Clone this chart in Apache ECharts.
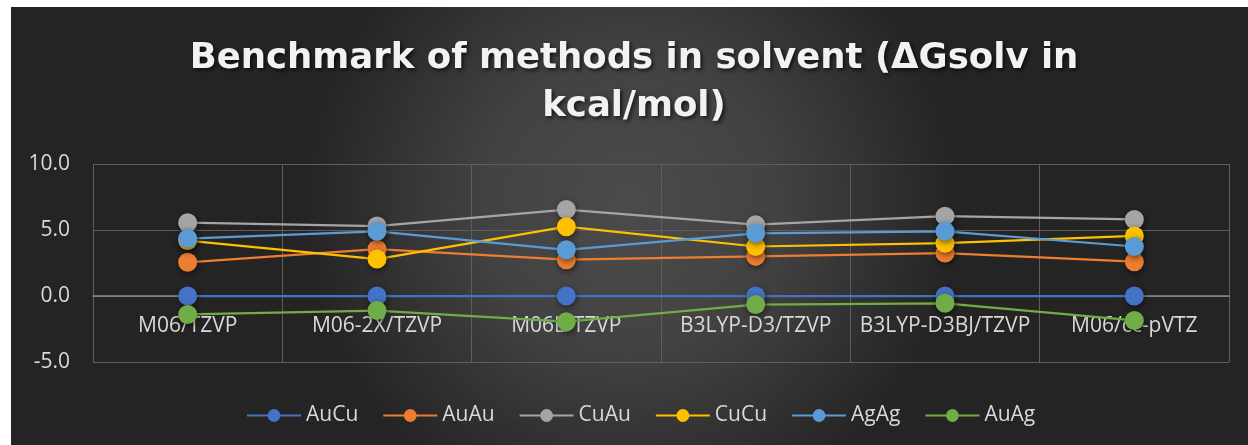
<!DOCTYPE html>
<html>
<head>
<meta charset="utf-8">
<style>
  html, body { margin: 0; padding: 0; background: #ffffff; }
  #chart { width: 1248px; height: 445px; }
</style>
<script src="https://cdn.jsdelivr.net/npm/echarts@6/dist/echarts.min.js"></script>
</head>
<body>
<div id="chart"></div>
<script>
// Methods compared (x-axis categories)
const methods = ['M06/TZVP', 'M06-2X/TZVP', 'M06L/TZVP', 'B3LYP-D3/TZVP', 'B3LYP-D3BJ/TZVP', 'M06/cc-pVTZ'];

// ΔGsolv values in kcal/mol for each dimer
const auCu = [0.0, 0.0, 0.0, 0.0, 0.0, 0.0];
const auAu = [2.55, 3.55, 2.75, 3.0, 3.25, 2.6];
const cuAu = [5.55, 5.3, 6.55, 5.4, 6.05, 5.8];
const cuCu = [4.2, 2.8, 5.25, 3.75, 4.0, 4.55];
const agAg = [4.35, 4.9, 3.5, 4.75, 4.9, 3.75];
const auAg = [-1.4, -1.1, -1.95, -0.65, -0.55, -1.85];

const yTicks = { min: -5, max: 10, step: 5 };

const seriesDefs = [
  { name: 'AuCu', data: auCu, color: '#4472C4' },
  { name: 'AuAu', data: auAu, color: '#ED7D31' },
  { name: 'CuAu', data: cuAu, color: '#A5A5A5' },
  { name: 'CuCu', data: cuCu, color: '#FFC000' },
  { name: 'AgAg', data: agAg, color: '#5B9BD5' },
  { name: 'AuAg', data: auAg, color: '#70AD47' }
];

const labelColor = '#d9d9d9';
const font = '"Open Sans", "DejaVu Sans", sans-serif';
const titleFont = '"DejaVu Sans", "Open Sans", sans-serif';

const chart = echarts.init(document.getElementById('chart'), null, { renderer: 'canvas' });

chart.setOption({
  backgroundColor: '#ffffff',
  animation: false,
  graphic: [{
    type: 'rect',
    z: -100,
    silent: true,
    shape: { x: 11, y: 7, width: 1237, height: 438 },
    style: {
      fill: {
        type: 'radial', x: 0.5, y: 0.45, r: 0.75,
        colorStops: [
          { offset: 0, color: '#4b4b4b' },
          { offset: 0.45, color: '#424242' },
          { offset: 1, color: '#242424' }
        ]
      }
    }
  }],
  title: {
    text: 'Benchmark of methods in solvent (ΔGsolv in\nkcal/mol)',
    left: 629,
    textAlign: 'center',
    top: 30,
    textStyle: {
      fontFamily: titleFont,
      fontWeight: 'bold',
      fontSize: 35.5,
      lineHeight: 48,
      color: '#f2f2f2',
      textShadowColor: 'rgba(0,0,0,0.7)',
      textShadowBlur: 4,
      textShadowOffsetX: 2,
      textShadowOffsetY: 2
    }
  },
  legend: {
    top: 405,
    left: 246,
    padding: 0,
    itemWidth: 54,
    itemHeight: 16,
    itemGap: 24,
    textStyle: { color: labelColor, fontFamily: font, fontSize: 21 },
    data: seriesDefs.map(s => s.name)
  },
  grid: { left: 93, right: 19, top: 164, bottom: 83, containLabel: false },
  xAxis: {
    type: 'category',
    data: methods,
    boundaryGap: true,
    // axis (and its labels) sits on the zero line, 5 units above the -5 floor
    offset: -66,
    axisLine: { show: true, lineStyle: { color: '#8a8a8a', width: 1.5 } },
    axisTick: { show: false },
    axisLabel: { color: labelColor, fontFamily: font, fontSize: 21, margin: 20, interval: 0 },
    splitLine: { show: true, interval: 0, lineStyle: { color: '#5e5e5e', width: 1 } }
  },
  yAxis: {
    type: 'value',
    min: yTicks.min,
    max: yTicks.max,
    interval: yTicks.step,
    axisLine: { show: false },
    axisTick: { show: false },
    axisLabel: {
      color: labelColor, fontFamily: font, fontSize: 21, margin: 23,
      formatter: v => v.toFixed(1)
    },
    splitLine: { lineStyle: { color: '#5e5e5e', width: 1 } }
  },
  series: seriesDefs.map(s => ({
    name: s.name,
    type: 'line',
    data: s.data,
    symbol: 'circle',
    symbolSize: 19,
    color: s.color,
    z: 3,
    lineStyle: { width: 2.25, color: s.color },
    itemStyle: {
      color: s.color,
      shadowColor: 'rgba(0,0,0,0.55)',
      shadowBlur: 6,
      shadowOffsetX: 1,
      shadowOffsetY: 2
    }
  }))
});
</script>
</body>
</html>
